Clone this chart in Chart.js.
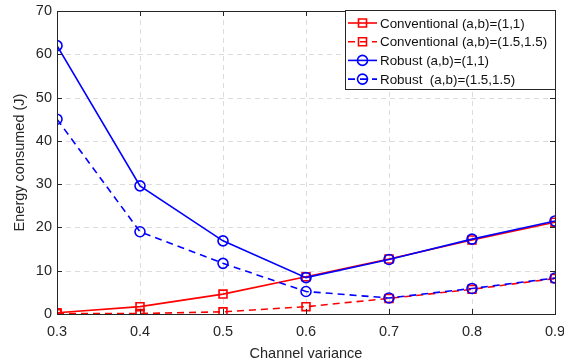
<!DOCTYPE html>
<html>
<head>
<meta charset="utf-8">
<script src="https://cdn.jsdelivr.net/npm/chart.js@4"></script>
<style>
  html, body { margin: 0; padding: 0; background: #fff; }
  #wrap { width: 564px; height: 364px; }
</style>
</head>
<body>
<div id="wrap"><canvas id="energyChart" width="564" height="364"></canvas></div>
<script>
// channel variance on x, energy (J) on y
const variance = [0.3, 0.4, 0.5, 0.6, 0.7, 0.8, 0.9];
const convA = [0.3, 1.7, 4.6, 8.6, 12.7, 17.1, 21.2];   // Conventional (a,b)=(1,1)
const convB = [0.1, 0.1, 0.5, 1.7, 3.6, 5.7, 8.2];      // Conventional (a,b)=(1.5,1.5)
const robA = [62.0, 29.6, 16.9, 8.4, 12.6, 17.3, 21.5]; // Robust (a,b)=(1,1)
const robB = [45.0, 19.0, 11.7, 5.2, 3.7, 5.9, 8.3];    // Robust (a,b)=(1.5,1.5)
const xTicks = [0.3, 0.4, 0.5, 0.6, 0.7, 0.8, 0.9];
const yTicks = [0, 10, 20, 30, 40, 50, 60, 70];
const labels = ['Conventional (a,b)=(1,1)', 'Conventional (a,b)=(1.5,1.5)', 'Robust (a,b)=(1,1)', 'Robust  (a,b)=(1.5,1.5)'];

const FONT = '"Liberation Sans", Arial, sans-serif';

function pts(ys) {
  return variance.map((x, i) => ({ x: x, y: ys[i] }));
}

function series(label, ys, color, dashed, marker, order) {
  return {
    label: label,
    data: pts(ys),
    borderColor: color,
    backgroundColor: 'rgba(0,0,0,0)',
    borderWidth: 1.6,
    borderDash: dashed ? [7, 5] : [],
    pointStyle: marker,
    pointRadius: marker === 'rect' ? 5.6 : 5,
    pointBorderWidth: 1.6,
    pointBorderColor: color,
    pointBackgroundColor: 'rgba(0,0,0,0)',
    tension: 0,
    order: order
  };
}

// dashed grid under the data
const gridPlugin = {
  id: 'dashGrid',
  beforeDatasetsDraw(chart) {
    const { ctx, chartArea: a, scales } = chart;
    ctx.save();
    ctx.strokeStyle = '#dcdcdc';
    ctx.lineWidth = 1;
    ctx.setLineDash([5, 4]);
    ctx.beginPath();
    xTicks.slice(1, -1).forEach(v => {
      const px = Math.round(scales.x.getPixelForValue(v)) + 0.5;
      ctx.moveTo(px, a.top); ctx.lineTo(px, a.bottom);
    });
    yTicks.slice(1, -1).forEach(v => {
      const py = Math.round(scales.y.getPixelForValue(v)) + 0.5;
      ctx.moveTo(a.left, py); ctx.lineTo(a.right, py);
    });
    ctx.stroke();
    ctx.restore();
  }
};

// box around plot area + inward ticks, like matlab axes
const boxPlugin = {
  id: 'box',
  afterDraw(chart) {
    const { ctx, chartArea: a, scales } = chart;
    ctx.save();
    ctx.strokeStyle = '#262626';
    ctx.lineWidth = 1;
    ctx.strokeRect(a.left + 0.5, a.top + 0.5, a.right - a.left, a.bottom - a.top);
    ctx.beginPath();
    xTicks.forEach(v => {
      const px = Math.round(scales.x.getPixelForValue(v)) + 0.5;
      ctx.moveTo(px, a.bottom); ctx.lineTo(px, a.bottom - 5);
      ctx.moveTo(px, a.top); ctx.lineTo(px, a.top + 5);
    });
    yTicks.forEach(v => {
      const py = Math.round(scales.y.getPixelForValue(v)) + 0.5;
      ctx.moveTo(a.left, py); ctx.lineTo(a.left + 5, py);
      ctx.moveTo(a.right, py); ctx.lineTo(a.right - 5, py);
    });
    ctx.stroke();
    ctx.restore();
  }
};

// matlab-style legend: line with marker in the middle
const legendPlugin = {
  id: 'boxLegend',
  afterDraw(chart) {
    const ctx = chart.ctx;
    const bx = 345, by = 10, bw = 210, bh = 79;
    ctx.save();
    ctx.fillStyle = '#fff';
    ctx.fillRect(bx, by, bw, bh);
    ctx.strokeStyle = '#262626';
    ctx.lineWidth = 1;
    ctx.strokeRect(bx + 0.5, by + 0.5, bw, bh);
    ctx.font = '13.4px ' + FONT;
    ctx.textBaseline = 'middle';
    chart.data.datasets.forEach((ds, i) => {
      const y = by + 13 + i * 18.7;
      ctx.strokeStyle = ds.borderColor;
      ctx.lineWidth = 1.6;
      ctx.setLineDash(ds.borderDash);
      ctx.beginPath();
      ctx.moveTo(348, y); ctx.lineTo(377, y);
      ctx.stroke();
      ctx.setLineDash([]);
      ctx.beginPath();
      if (ds.pointStyle === 'rect') {
        ctx.rect(358.5, y - 4, 8, 8);
      } else {
        ctx.arc(362.5, y, 5, 0, Math.PI * 2);
      }
      ctx.stroke();
      ctx.fillStyle = '#111';
      ctx.fillText(ds.label, 380, y + 1);
    });
    ctx.restore();
  }
};

const ctx = document.getElementById('energyChart').getContext('2d');
const energyChart = new Chart(ctx, {
  type: 'line',
  data: {
    datasets: [
      series(labels[0], convA, '#ff0000', false, 'rect', 2),
      series(labels[1], convB, '#ff0000', true, 'rect', 3),
      series(labels[2], robA, '#0000ff', false, 'circle', 0),
      series(labels[3], robB, '#0000ff', true, 'circle', 1)
    ]
  },
  options: {
    responsive: false,
    animation: false,
    layout: { padding: { top: 11, right: 9, left: 0, bottom: 0 } },
    plugins: {
      legend: { display: false },
      tooltip: { enabled: false }
    },
    scales: {
      x: {
        type: 'linear',
        min: 0.3,
        max: 0.9,
        afterBuildTicks: s => { s.ticks = xTicks.map(v => ({ value: v })); },
        afterFit: s => { s.height = 50; s.paddingLeft = 0; s.paddingRight = 0; },
        grid: { display: false, drawTicks: false },
        border: { display: false },
        ticks: {
          color: '#262626',
          font: { family: FONT, size: 14.5 },
          padding: 9,
          maxRotation: 0,
          callback: v => v.toFixed(1)
        },
        title: {
          display: true,
          text: 'Channel variance',
          color: '#262626',
          font: { family: FONT, size: 14.5 },
          padding: { top: 2, bottom: 1 }
        }
      },
      y: {
        min: 0,
        max: 70,
        afterBuildTicks: s => { s.ticks = yTicks.map(v => ({ value: v })); },
        afterFit: s => { s.width = 57; s.paddingTop = 0; s.paddingBottom = 0; },
        grid: { display: false, drawTicks: false },
        border: { display: false },
        ticks: {
          color: '#262626',
          font: { family: FONT, size: 14.5 },
          padding: 5
        },
        title: {
          display: true,
          text: 'Energy consumed (J)',
          color: '#262626',
          font: { family: FONT, size: 14.5 },
          padding: { top: 11, bottom: 2 }
        }
      }
    }
  },
  plugins: [gridPlugin, boxPlugin, legendPlugin]
});
</script>
</body>
</html>
